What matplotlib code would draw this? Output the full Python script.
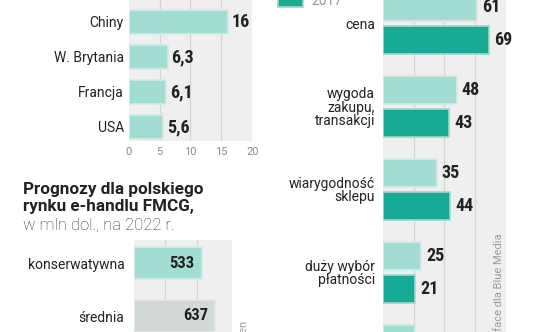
import numpy as np
import matplotlib
matplotlib.use('Agg')
import matplotlib.pyplot as plt
from matplotlib import font_manager
from matplotlib.patches import Rectangle

# ---------------- data ----------------
countries = ['Chiny', 'W. Brytania', 'Francja', 'USA']
country_vals = [16, 6.3, 6.1, 5.6]
country_ticks = [0, 5, 10, 15, 20]

factors = ['cena', 'wygoda\nzakupu,\ntransakcji', 'wiarygodność\nsklepu',
           'duży wybór\npłatności']
factor_prev = [61, 48, 35, 25]
factor_2017 = [69, 43, 44, 21]
# fifth group: only the top of its lighter bar shows at the lower edge
extra_prev = [21]
legend_year = '2017'

scenarios = ['konserwatywna', 'średnia']
scenario_vals = [533, 637]

# ---------------- style ----------------
names = {f.name for f in font_manager.fontManager.ttflist}
BASE = 'Roboto' if 'Roboto' in names else 'DejaVu Sans'
COND = BASE
for cand in ['Roboto Condensed', 'Liberation Sans Narrow', 'Open Sans Condensed']:
    if cand in names:
        COND = cand
        break
plt.rcParams['font.family'] = [BASE, 'DejaVu Sans']

LIGHT = '#a2ddd3'
DARK = '#17ab95'
GRAY = '#d3d9d8'
PANEL = '#efefef'
GRID = '#d4d4d4'
TXT = '#222222'

W, H = 536, 332
fig = plt.figure(figsize=(W / 100, H / 100), dpi=100)


def add_ax(x0, y0, x1, y1):
    return fig.add_axes([x0 / W, 1 - y1 / H, (x1 - x0) / W, (y1 - y0) / H])


def style(ax):
    ax.set_facecolor(PANEL)
    for s in ax.spines.values():
        s.set_visible(False)
    ax.tick_params(length=0)
    ax.set_axisbelow(True)
    ax.grid(axis='x', color=GRID, lw=0.9)


def fmt(v):
    return ('%g' % v).replace('.', ',')


vfs = 13 if COND != BASE else 12

# ---------------- top-left: countries ----------------
ax1 = add_ax(128.7, -15, 252.2, 141)
style(ax1)
y1 = np.arange(len(countries))
ax1.barh(y1, country_vals, height=0.68, color=LIGHT, edgecolor='#d4ebe6', lw=1.2)
ax1.set_xlim(0, 20)
ax1.set_ylim(3.4, -1.057)
ax1.set_xticks(country_ticks)
ax1.set_xticklabels([str(t) for t in country_ticks])
gl = ax1.xaxis.get_gridlines()
gl[0].set_visible(False)
gl[-1].set_visible(False)
ax1.tick_params(axis='x', pad=4, labelsize=8, labelcolor='#8a8a8a')
ax1.set_yticks(y1)
ax1.set_yticklabels(countries)
ax1.tick_params(axis='y', pad=3.5, labelsize=10, labelcolor=TXT)
for i, v in enumerate(country_vals):
    ax1.annotate(fmt(v), xy=(v, i), xytext=(4, 0), textcoords='offset pixels',
                 ha='left', va='center', fontsize=vfs, fontweight='bold',
                 family=[COND, 'DejaVu Sans'], color=TXT)

# ---------------- right: factors ----------------
ax2 = add_ax(382.7, -20, 505.9, 400)
style(ax2)
g = np.arange(len(factors))
ax2.barh(g - 0.2, factor_prev, height=0.337, color=LIGHT, edgecolor='#d4ebe6', lw=1.2)
ax2.barh(g + 0.2, factor_2017, height=0.337, color=DARK, edgecolor='#9fd8cd', lw=1.2)
ax2.barh([len(factors) - 0.2], extra_prev, height=0.337, color=LIGHT,
         edgecolor='#d4ebe6', lw=1.2)
ax2.set_xlim(0, 80)
ax2.set_ylim((400 - 23.5) / 83, (-20 - 23.5) / 83)
ax2.set_xticks([20, 40, 60])
ax2.set_xticklabels([])
ax2.set_yticks(g)
ax2.set_yticklabels(factors)
ax2.tick_params(axis='y', pad=5.5, labelsize=10, labelcolor=TXT)
for lbl in ax2.get_yticklabels():
    lbl.set_linespacing(0.95)
for i in range(len(factors)):
    for off, v in ((-0.2, factor_prev[i]), (0.2, factor_2017[i])):
        ax2.annotate(fmt(v), xy=(v, i + off), xytext=(5, 0), textcoords='offset pixels',
                     ha='left', va='center', fontsize=vfs, fontweight='bold',
                     family=[COND, 'DejaVu Sans'], color=TXT)

# legend (partially visible at the top edge)
fig.add_artist(Rectangle((278 / W, 1 - 7 / H), 25 / W, 20 / H, transform=fig.transFigure,
                         facecolor=DARK, edgecolor='#9fd8cd', lw=1.2))
fig.text(311 / W, 1 - 5 / H, legend_year, fontsize=10, color='#9a9a9a', va='baseline')

# ---------------- bottom-left: scenarios ----------------
fig.text(23 / W, 1 - 194 / H, 'Prognozy dla polskiego', fontsize=12.3,
         fontweight='bold', color=TXT, va='baseline')
fig.text(23 / W, 1 - 211.5 / H, 'rynku e-handlu FMCG,', fontsize=12.3,
         fontweight='bold', color=TXT, va='baseline')
fig.text(23 / W, 1 - 229.5 / H, 'w mln dol., na 2022 r.', fontsize=12,
         fontweight='light', color='#333333', va='baseline')

ax3 = add_ax(133.5, 240, 232, 400)
style(ax3)
y3 = np.arange(len(scenarios))
ax3.barh(y3, scenario_vals, height=0.585, color=[LIGHT, GRAY],
         edgecolor=['#d4ebe6', '#e4e8e8'], lw=1.2)
ax3.set_xlim(0, 770)
ax3.set_ylim((400 - 263) / 53, (240 - 263) / 53)
ax3.set_xticks([250, 500])
ax3.set_xticklabels([])
ax3.set_yticks(y3)
ax3.set_yticklabels(scenarios)
ax3.tick_params(axis='y', pad=6.5, labelsize=10, labelcolor=TXT)
for i, v in enumerate(scenario_vals):
    ax3.annotate(fmt(v), xy=(v, i), xytext=(-7, 0), textcoords='offset pixels',
                 ha='right', va='center', fontsize=vfs - 1, fontweight='bold',
                 family=[COND, 'DejaVu Sans'], color=TXT)

# ---------------- sources (rotated, cut by the frame) ----------------
fig.text(499 / W, 1 - 233 / H, 'Źródło: Interface dla Blue Media', rotation=90,
         ha='center', va='top', fontsize=8, color='#9a9a9a')
fig.text(243 / W, 1 - 321 / H, 'Źródło: Edge by Ascential, Wardzen', rotation=90,
         ha='center', va='top', fontsize=8, color='#9a9a9a')

fig.savefig('out.png', dpi=100)
